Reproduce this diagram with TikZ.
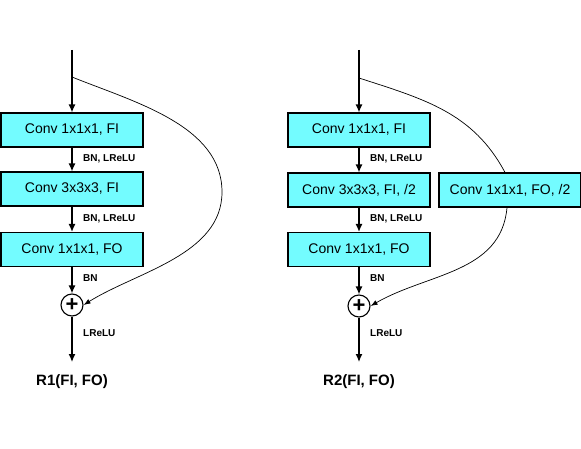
\documentclass[tikz,border=0pt]{standalone}
\usepackage{fontspec}
\setmainfont{Liberation Sans}
\usetikzlibrary{arrows.meta}
\definecolor{convcyan}{RGB}{115,252,255}

\begin{document}
\begin{tikzpicture}[x=1pt,y=-1pt,conv/.style={draw=black, fill=convcyan, line width=1.1pt, minimum width=142pt, minimum height=34pt, inner sep=0pt, font=\fontsize{14}{16}\selectfont},flow/.style={line width=1.3pt, -{Latex[length=8pt,width=7pt]}},skip/.style={line width=0.7pt, -{Latex[length=7pt,width=5pt]}},act/.style={anchor=west, inner sep=1pt, font=\fontsize{10}{12}\selectfont\bfseries},blocktitle/.style={font=\fontsize{15}{18}\selectfont\bfseries},addop/.style={draw, circle, line width=1.1pt, minimum size=22pt, inner sep=0pt, font=\fontsize{22}{22}\selectfont\bfseries}]
\useasboundingbox (0,0) rectangle (581,449);
% block R1
\coordinate (in1) at (72,50);
\coordinate (fork1) at (72,77);
\coordinate (turn1) at (222,192);
\coordinate (out1) at (72,362);
\node[conv] (a1) at (72,130) {Conv 1x1x1, FI};
\node[conv] (b1) at (72,189) {Conv 3x3x3, FI};
\node[conv] (c1) at (72,249.5) {Conv 1x1x1, FO};
\node[addop] (s1) at (72,305) {+};
\draw[flow] (in1) -- (a1);
\draw[flow] (a1) -- (b1);
\draw[flow] (b1) -- (c1);
\draw[flow] (c1) -- (s1);
\draw[flow] (s1) -- (out1);
\draw[skip] (fork1) to[out=-22,in=90,looseness=0.9] (turn1) to[out=-90,in=32,looseness=0.9] (s1.east);
\node[blocktitle] (t1) at (72,382) {R1(FI, FO)};
% block R2
\coordinate (in2) at (359,50);
\coordinate (fork2) at (359,78);
\coordinate (out2) at (359,362);
\node[conv] (a2) at (359,130) {Conv 1x1x1, FI};
\node[conv] (b2) at (359,190) {Conv 3x3x3, FI, /2};
\node[conv] (c2) at (359,249.5) {Conv 1x1x1, FO};
\node[conv] (side2) at (510,190) {Conv 1x1x1, FO, /2};
\node[addop] (s2) at (359,306) {+};
\draw[flow] (in2) -- (a2);
\draw[flow] (a2) -- (b2);
\draw[flow] (b2) -- (c2);
\draw[flow] (c2) -- (s2);
\draw[flow] (s2) -- (out2);
\draw[line width=0.7pt] (fork2) to[out=-18,in=118] ([xshift=-5pt]side2.north);
\draw[skip] ([xshift=-3pt]side2.south) to[out=-95,in=30] (s2.east);
\node[blocktitle] (t2) at (359,382) {R2(FI, FO)};
% activation labels
\foreach \x/\n in {82/1,369/2} {\node[act] (bna\n) at (\x,159) {BN, LReLU};\node[act] (bnb\n) at (\x,219) {BN, LReLU};\node[act] (bnc\n) at (\x,278) {BN};\node[act] (lr\n) at (\x,333) {LReLU};}
\end{tikzpicture}
\end{document}
